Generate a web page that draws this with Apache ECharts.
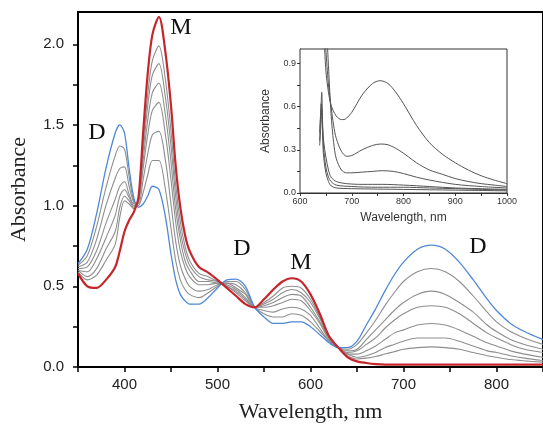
<!DOCTYPE html>
<html>
<head>
<meta charset="utf-8">
<script src="https://cdn.jsdelivr.net/npm/echarts@6.0.0/dist/echarts.min.js"></script>
<style>
  html, body { margin: 0; padding: 0; background: #fff; }
  #chart { width: 543px; height: 428px; }
</style>
</head>
<body>
<div id="chart"></div>
<script>
// wavelengths (nm) shared by all main-panel spectra
const wavelengths = [350, 360, 370, 380, 390, 395, 400, 405, 410, 415,
  420, 425, 430, 437, 444, 450, 455, 460, 465, 470,
  480, 490, 500, 510, 520, 530, 540, 550, 560, 570,
  580, 590, 600, 610, 620, 630, 640, 650, 660, 670,
  680, 690, 700, 715, 730, 745, 760, 775, 790, 800,
  815, 830, 850];

// dimer (start, blue)
const specD = [0.64, 0.73, 0.95, 1.23, 1.45, 1.50, 1.45, 1.23, 1.05, 0.99,
  1.01, 1.06, 1.12, 1.10, 0.93, 0.70, 0.54, 0.45, 0.41, 0.39,
  0.39, 0.43, 0.49, 0.54, 0.545, 0.50, 0.37, 0.31, 0.27, 0.27,
  0.28, 0.28, 0.25, 0.20, 0.15, 0.12, 0.12, 0.16, 0.26, 0.36,
  0.47, 0.57, 0.65, 0.73, 0.755, 0.73, 0.65, 0.54, 0.42, 0.35,
  0.27, 0.22, 0.17];

// monomer (end, red)
const specM = [0.58, 0.50, 0.49, 0.54, 0.62, 0.72, 0.84, 0.91, 0.96, 1.05,
  1.45, 1.82, 2.06, 2.17, 1.95, 1.62, 1.25, 0.99, 0.82, 0.72,
  0.62, 0.585, 0.54, 0.49, 0.44, 0.39, 0.37, 0.42, 0.48, 0.53,
  0.55, 0.53, 0.45, 0.33, 0.19, 0.12, 0.06, 0.035, 0.025, 0.018,
  0.015, 0.015, 0.015, 0.015, 0.015, 0.015, 0.015, 0.015, 0.015, 0.015,
  0.015, 0.015, 0.015];

// intermediate spectra (grey)
const spec1 = [0.63, 0.69, 0.87, 1.11, 1.31, 1.37, 1.35, 1.18, 1.03, 1.00,
  1.08, 1.19, 1.28, 1.28, 1.10, 0.86, 0.66, 0.54, 0.48, 0.45,
  0.43, 0.46, 0.50, 0.53, 0.53, 0.48, 0.37, 0.33, 0.31, 0.31,
  0.33, 0.32, 0.28, 0.22, 0.16, 0.12, 0.11, 0.14, 0.21, 0.29,
  0.38, 0.46, 0.53, 0.59, 0.61, 0.59, 0.53, 0.44, 0.34, 0.28,
  0.22, 0.18, 0.14];
const spec2 = [0.62, 0.65, 0.79, 1.00, 1.17, 1.23, 1.24, 1.12, 1.02, 1.01,
  1.16, 1.32, 1.44, 1.46, 1.28, 1.01, 0.78, 0.63, 0.55, 0.50,
  0.47, 0.48, 0.51, 0.52, 0.51, 0.46, 0.37, 0.35, 0.34, 0.36,
  0.37, 0.36, 0.32, 0.24, 0.16, 0.12, 0.10, 0.11, 0.17, 0.23,
  0.29, 0.35, 0.40, 0.45, 0.47, 0.45, 0.40, 0.34, 0.26, 0.22,
  0.17, 0.14, 0.11];
const spec3 = [0.61, 0.62, 0.72, 0.89, 1.04, 1.12, 1.15, 1.07, 1.01, 1.02,
  1.23, 1.44, 1.59, 1.64, 1.44, 1.16, 0.90, 0.72, 0.62, 0.56,
  0.51, 0.51, 0.52, 0.52, 0.49, 0.45, 0.37, 0.37, 0.38, 0.40,
  0.42, 0.41, 0.35, 0.27, 0.17, 0.12, 0.09, 0.10, 0.14, 0.18,
  0.24, 0.29, 0.33, 0.37, 0.38, 0.37, 0.33, 0.27, 0.21, 0.18,
  0.14, 0.11, 0.09];
const spec4 = [0.60, 0.59, 0.67, 0.80, 0.94, 1.06, 1.10, 1.05, 1.00, 1.03,
  1.28, 1.53, 1.70, 1.76, 1.56, 1.27, 0.98, 0.79, 0.66, 0.60,
  0.53, 0.53, 0.52, 0.51, 0.48, 0.43, 0.37, 0.38, 0.40, 0.43,
  0.45, 0.44, 0.37, 0.28, 0.18, 0.12, 0.08, 0.08, 0.10, 0.13,
  0.17, 0.21, 0.23, 0.26, 0.27, 0.26, 0.23, 0.19, 0.15, 0.13,
  0.10, 0.08, 0.06];
const spec5 = [0.60, 0.56, 0.61, 0.73, 0.84, 0.99, 1.06, 1.03, 0.99, 1.03,
  1.33, 1.62, 1.81, 1.88, 1.67, 1.37, 1.06, 0.84, 0.71, 0.63,
  0.56, 0.54, 0.53, 0.50, 0.47, 0.42, 0.37, 0.39, 0.42, 0.46,
  0.48, 0.46, 0.40, 0.30, 0.18, 0.12, 0.08, 0.06, 0.07, 0.09,
  0.12, 0.14, 0.16, 0.18, 0.18, 0.18, 0.16, 0.13, 0.10, 0.09,
  0.07, 0.055, 0.04];
const spec6 = [0.59, 0.54, 0.57, 0.66, 0.76, 0.93, 1.03, 1.01, 0.98, 1.04,
  1.38, 1.69, 1.90, 1.99, 1.78, 1.46, 1.13, 0.90, 0.75, 0.66,
  0.58, 0.56, 0.53, 0.50, 0.46, 0.41, 0.37, 0.40, 0.44, 0.49,
  0.50, 0.49, 0.42, 0.31, 0.18, 0.12, 0.07, 0.05, 0.055, 0.065,
  0.08, 0.095, 0.11, 0.12, 0.125, 0.12, 0.11, 0.09, 0.07, 0.06,
  0.046, 0.038, 0.03];

const xTicks = [350, 400, 450, 500, 550, 600, 650, 700, 750, 800, 850];
const xLabels = [400, 500, 600, 700, 800];
const yTicks = [0, 0.25, 0.5, 0.75, 1.0, 1.25, 1.5, 1.75, 2.0];
const yLabels = [0, 0.5, 1.0, 1.5, 2.0];

// inset (NIR region)
const insetWl1 = [645, 650, 655, 660, 670, 680, 685, 690, 700, 720, 740, 755, 770, 785, 800, 825, 850, 875, 900, 925, 950, 975, 1000];
const insetA1 = [1.2, 0.85, 0.70, 0.61, 0.535, 0.51, 0.51, 0.52, 0.56, 0.68, 0.76, 0.78, 0.76, 0.70, 0.62, 0.47, 0.35, 0.27, 0.21, 0.16, 0.12, 0.09, 0.065];
const insetWl2 = [648, 655, 660, 665, 670, 680, 690, 700, 720, 740, 755, 770, 790, 810, 825, 850, 875, 900, 925, 950, 975, 1000];
const insetA2 = [1.1, 0.75, 0.60, 0.47, 0.38, 0.29, 0.255, 0.26, 0.30, 0.33, 0.34, 0.335, 0.30, 0.25, 0.21, 0.16, 0.13, 0.10, 0.08, 0.065, 0.055, 0.045];
const insetWl3 = [652, 660, 665, 670, 680, 690, 700, 720, 740, 760, 780, 800, 825, 850, 900, 950, 1000];
const insetA3 = [1.1, 0.55, 0.35, 0.24, 0.16, 0.14, 0.14, 0.145, 0.15, 0.155, 0.15, 0.135, 0.11, 0.09, 0.06, 0.045, 0.035];
const insetWl4 = [638, 640, 642, 644, 646, 650, 655, 660, 670, 690, 720, 760, 800, 850, 900, 950, 1000];
const insetA4 = [0.42, 0.55, 0.70, 0.45, 0.35, 0.25, 0.16, 0.11, 0.08, 0.065, 0.06, 0.06, 0.055, 0.045, 0.035, 0.03, 0.025];
const insetWl5 = [638, 641, 643, 646, 650, 655, 660, 670, 700, 750, 800, 850, 900, 1000];
const insetA5 = [0.36, 0.62, 0.50, 0.30, 0.18, 0.11, 0.08, 0.055, 0.045, 0.04, 0.04, 0.035, 0.03, 0.02];
const insetWl6 = [638, 640, 642, 645, 650, 655, 660, 670, 700, 800, 900, 1000];
const insetA6 = [0.33, 0.45, 0.58, 0.28, 0.14, 0.08, 0.05, 0.035, 0.03, 0.025, 0.02, 0.015];

const insetXTicks = [600, 650, 700, 750, 800, 850, 900, 950, 1000];
const insetXLabels = [600, 700, 800, 900, 1000];
const insetYTicks = [0, 0.15, 0.3, 0.45, 0.6, 0.75, 0.9];
const insetYLabels = [0, 0.3, 0.6, 0.9];

function pairs(xs, ys) {
  return xs.map((x, i) => [x, ys[i]]);
}

const chart = echarts.init(document.getElementById('chart'), null, { renderer: 'canvas' });

const greys = [spec1, spec2, spec3, spec4, spec5, spec6];
const insets = [[insetWl1, insetA1], [insetWl2, insetA2], [insetWl3, insetA3],
  [insetWl4, insetA4], [insetWl5, insetA5], [insetWl6, insetA6]];

const series = [];
greys.forEach(s => {
  series.push({
    type: 'line', xAxisIndex: 0, yAxisIndex: 0, data: pairs(wavelengths, s),
    showSymbol: false, smooth: 0.3, z: 2,
    lineStyle: { color: '#8e8e8e', width: 1.1 }
  });
});
series.push({
  type: 'line', xAxisIndex: 0, yAxisIndex: 0, data: pairs(wavelengths, specD),
  showSymbol: false, smooth: 0.3, z: 3,
  lineStyle: { color: '#4f88d6', width: 1.3 }
});
series.push({
  type: 'line', xAxisIndex: 0, yAxisIndex: 0, data: pairs(wavelengths, specM),
  showSymbol: false, smooth: 0.3, z: 4,
  lineStyle: { color: '#c4262b', width: 2.2 }
});
insets.forEach(s => {
  series.push({
    type: 'line', xAxisIndex: 1, yAxisIndex: 1, data: pairs(s[0], s[1]),
    showSymbol: false, smooth: 0.3, z: 6,
    lineStyle: { color: '#555', width: 1 }
  });
});

const serif = 'Liberation Serif';
const sans = 'Liberation Sans';

function note(text, x, y) {
  return {
    type: 'text', x: x, y: y, z: 10,
    style: {
      text: text, font: '24px "' + serif + '"', fill: '#111',
      textAlign: 'center', textVerticalAlign: 'middle',
      align: 'center', verticalAlign: 'middle'
    }
  };
}

const option = {
  animation: false,
  backgroundColor: '#fff',
  grid: [
    { left: 77, top: 12, width: 470, height: 355, show: true, borderColor: '#000', borderWidth: 2 },
    { left: 300, top: 49, width: 207, height: 144, show: true, borderColor: '#333', borderWidth: 1, backgroundColor: '#fff', z: 5 }
  ],
  xAxis: [
    {
      gridIndex: 0, type: 'value', min: 350, max: 850,
      name: 'Wavelength, nm', nameLocation: 'middle', nameGap: 34,
      nameTextStyle: { fontFamily: serif, fontSize: 22, color: '#222' },
      axisLine: { onZero: false, lineStyle: { color: '#000', width: 2 } },
      axisTick: { length: 5, customValues: xTicks, lineStyle: { color: '#000', width: 1.5 } },
      axisLabel: { customValues: xLabels, fontFamily: sans, fontSize: 15, color: '#222', margin: 10,
        formatter: v => String(v) },
      splitLine: { show: false }
    },
    {
      gridIndex: 1, type: 'value', min: 600, max: 1000,
      name: 'Wavelength, nm', nameLocation: 'middle', nameGap: 19,
      nameTextStyle: { fontFamily: sans, fontSize: 12, color: '#333' },
      axisLine: { onZero: false, lineStyle: { color: '#333', width: 1 } },
      axisTick: { length: 3, customValues: insetXTicks, lineStyle: { color: '#333' } },
      axisLabel: { customValues: insetXLabels, fontFamily: sans, fontSize: 9, color: '#333', margin: 4,
        formatter: v => String(v) },
      splitLine: { show: false }
    }
  ],
  yAxis: [
    {
      gridIndex: 0, type: 'value', min: 0, max: 2.2,
      name: 'Absorbance', nameLocation: 'middle', nameGap: 48,
      nameTextStyle: { fontFamily: serif, fontSize: 22, color: '#222' },
      axisLine: { onZero: false, lineStyle: { color: '#000', width: 2 } },
      axisTick: { length: 5, customValues: yTicks, lineStyle: { color: '#000', width: 1.5 } },
      axisLabel: { customValues: yLabels, fontFamily: sans, fontSize: 15, color: '#222', margin: 14,
        formatter: v => v.toFixed(1) },
      splitLine: { show: false }
    },
    {
      gridIndex: 1, type: 'value', min: 0, max: 1.0,
      name: 'Absorbance', nameLocation: 'middle', nameGap: 28,
      nameTextStyle: { fontFamily: sans, fontSize: 12, color: '#333' },
      axisLine: { onZero: false, lineStyle: { color: '#333', width: 1 } },
      axisTick: { length: 3, customValues: insetYTicks, lineStyle: { color: '#333' } },
      axisLabel: { customValues: insetYLabels, fontFamily: sans, fontSize: 9, color: '#333', margin: 4,
        formatter: v => v.toFixed(1) },
      splitLine: { show: false }
    }
  ],
  graphic: [
    note('M', 181, 28),
    note('D', 97, 133),
    note('D', 242, 249),
    note('M', 301, 263),
    note('D', 478, 247)
  ],
  series: series
};

chart.setOption(option);
</script>
</body>
</html>
